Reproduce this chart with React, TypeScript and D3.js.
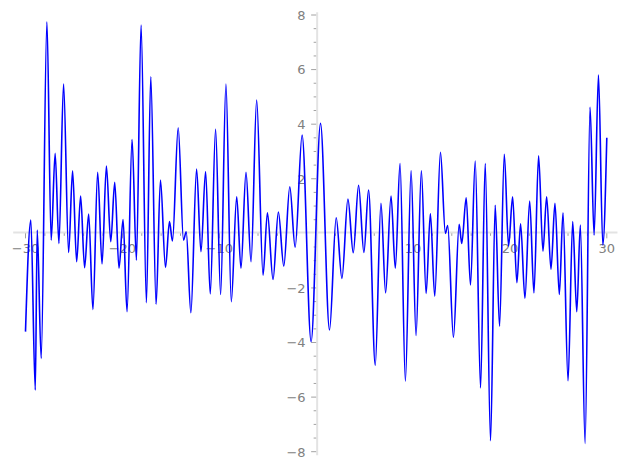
import React from "react";
import * as d3 from "d3";

// Local extrema of the plotted curve
const xs = [
  -30, -29.45, -28.99, -28.79, -28.38, -27.79, -27.35, -26.94, -26.55, -26.07,
  -25.55, -25.14, -24.72, -24.31, -23.9, -23.48, -23.04, -22.55, -22.1, -21.65,
  -21.2, -20.79, -20.35, -19.93, -19.52, -19.0, -18.55, -18.07, -17.52, -17.07,
  -16.52, -16.07, -15.55, -15.14, -14.83, -14.24, -13.69, -13.41, -12.93, -12.34,
  -11.89, -11.41, -10.93, -10.38, -9.86, -9.31, -8.76, -8.2, -7.76, -7.24,
  -6.72, -6.14, -5.48, -5.03, -4.45, -3.9, -3.34, -2.72, -2.17, -1.45,
  -0.52, 0.45, 1.38, 2.07, 2.66, 3.28, 3.83, 4.38, 4.93, 5.41,
  6.1, 6.69, 7.17, 7.73, 8.17, 8.66, 9.21, 9.8, 10.31, 10.86,
  11.35, 11.79, 12.24, 12.83, 13.34, 13.58, 14.17, 14.76, 15.03, 15.49,
  15.93, 16.42, 16.97, 17.45, 18.0, 18.48, 18.93, 19.42, 19.86, 20.28,
  20.72, 21.1, 21.55, 22.04, 22.48, 22.96, 23.41, 23.79, 24.24, 24.65,
  25.1, 25.48, 26.0, 26.48, 26.9, 27.27, 27.76, 28.27, 28.69, 29.14,
  29.59, 30,
];
const ys = [
  -3.6, 0.49, -5.74, 0.12, -4.58, 7.75, -0.25, 2.93, -0.37, 5.47,
  -0.7, 2.29, -1.04, 1.37, -1.26, 0.71, -2.79, 2.24, -1.12, 2.47,
  -0.31, 1.87, -1.28, 0.51, -2.87, 3.44, -0.98, 7.63, -2.54, 5.74,
  -2.6, 1.95, -1.25, 0.43, -0.28, 3.87, -0.25, 0.06, -2.91, 2.36,
  -0.67, 2.26, -2.22, 3.81, -2.24, 5.47, -2.5, 1.34, -1.28, 2.24,
  -1.04, 4.88, -1.53, 0.75, -1.69, 0.78, -1.2, 1.71, -0.51, 3.6,
  -3.97, 4.03, -3.54, 0.57, -1.65, 1.26, -0.71, 1.76, -0.7, 1.59,
  -4.83, 1.1, -2.18, 1.37, -1.28, 2.56, -5.41, 2.29, -3.74, 2.29,
  -2.2, 0.73, -2.3, 2.97, 0.0, 0.29, -3.81, 0.33, -0.37, 1.3,
  -1.89, 2.65, -5.66, 2.56, -7.6, 1.03, -3.4, 2.9, -0.47, 1.34,
  -1.81, 0.35, -2.38, 1.18, -2.18, 2.84, -0.65, 1.34, -1.31, 1.1,
  -2.24, 0.75, -5.4, 0.43, -2.87, 0.3, -7.7, 4.62, -0.06, 5.8,
  -0.43, 3.5,
];

const xMajor = [-30, -20, -10, 10, 20, 30];
const yMajor = [-8, -6, -4, -2, 2, 4, 6, 8];

const W = 627;
const H = 469;

export default function App() {
  const x = d3.scaleLinear().domain([-30, 30]).range([25.5, 606.8]);
  const y = d3.scaleLinear().domain([-8, 8]).range([451.7, 15]);
  const pts: [number, number][] = xs.map((v, i) => [v, ys[i]]);
  const line = d3
    .line<[number, number]>()
    .x((d) => x(d[0]))
    .y((d) => y(d[1]))
    .curve(d3.curveMonotoneX);

  const xMinor = d3.range(-30, 31, 2).filter((v) => v % 10 !== 0);
  const yMinor = d3.range(-8, 8.01, 0.5).filter((v) => v % 2 !== 0);
  const x0 = x(0);
  const y0 = y(0);
  const font = "'DejaVu Sans', sans-serif";
  const labelColor = "#808080";
  const tickColor = "#8a8a8a";
  const fmt = (v: number) => (v < 0 ? "\u2212" + Math.abs(v) : String(v));

  return (
    <svg
      width={W}
      height={H}
      style={{ position: "absolute", left: 0, top: 0, background: "#fff" }}
    >
      {/* axis lines */}
      <line x1={x(-31.27)} x2={x(31.1)} y1={y0 - 0.8} y2={y0 - 0.8} stroke="#e3e3e3" strokeWidth={2} />
      <line x1={x0 + 1} x2={x0 + 1} y1={y(8.1)} y2={y(-8.13)} stroke="#e3e3e3" strokeWidth={2} />

      {/* x ticks */}
      {xMinor.map((v) => (
        <line key={"xm" + v} x1={x(v)} x2={x(v)} y1={y0} y2={y0 + 2.5} stroke={tickColor} strokeWidth={0.8} />
      ))}
      {xMajor.map((v) => (
        <g key={"xM" + v}>
          <line x1={x(v)} x2={x(v)} y1={y0} y2={y0 + 5} stroke={tickColor} strokeWidth={0.8} />
          <text x={x(v)} y={y0 + 19.5} textAnchor="middle" fontFamily={font} fontSize={13} fill={labelColor}>
            {fmt(v)}
          </text>
        </g>
      ))}

      {/* y ticks */}
      {yMinor.map((v) => (
        <line key={"ym" + v} x1={x0 - 2.5} x2={x0} y1={y(v)} y2={y(v)} stroke={tickColor} strokeWidth={0.8} />
      ))}
      {yMajor.map((v) => (
        <g key={"yM" + v}>
          <line x1={x0 - 5} x2={x0} y1={y(v)} y2={y(v)} stroke={tickColor} strokeWidth={0.8} />
          <text x={x0 - 10.5} y={y(v) + 4.8} textAnchor="end" fontFamily={font} fontSize={13} fill={labelColor}>
            {fmt(v)}
          </text>
        </g>
      ))}

      {/* curve */}
      <path d={line(pts) || ""} fill="none" stroke="#0000ff" strokeWidth={1.6} strokeLinejoin="round" />
    </svg>
  );
}
